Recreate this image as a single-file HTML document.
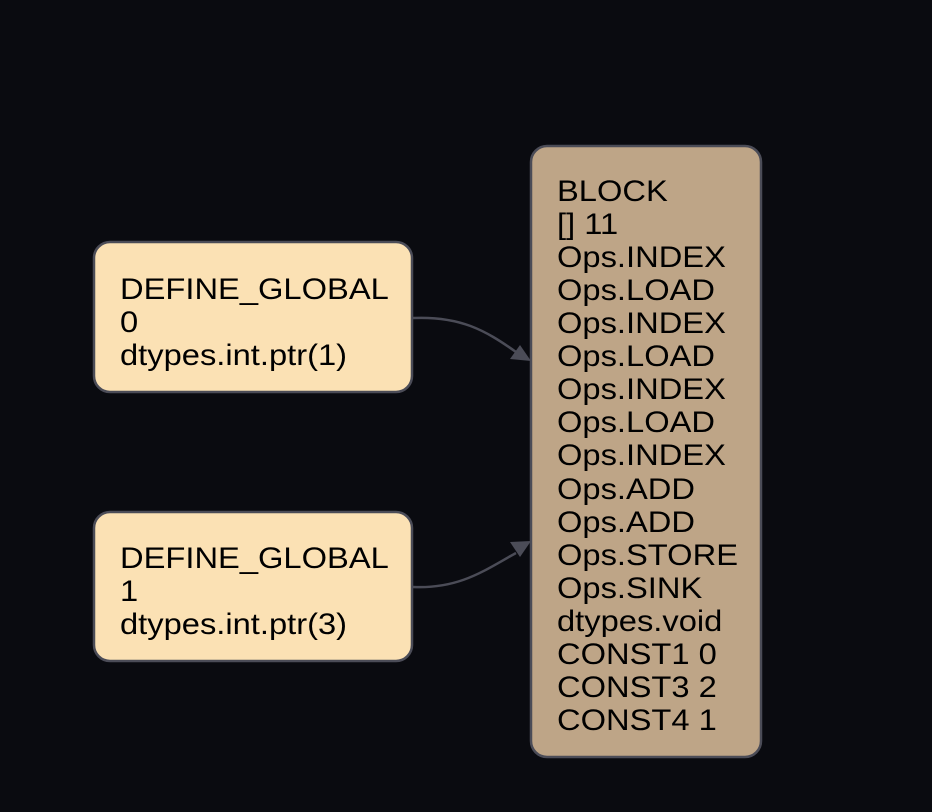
<!DOCTYPE html>
<html><head><style>
html,body{margin:0;padding:0;background:#0a0b10;}
svg{display:block}
text{font-family:"Liberation Sans",Arial,sans-serif;font-size:30px;fill:#000}
</style></head><body>
<svg width="932" height="812" viewBox="0 0 932 812">
<rect width="932" height="812" fill="#0a0b10"/>
<rect x="94" y="242" width="318" height="150" rx="16" fill="#fbe1b4" stroke="#4b4c57" stroke-width="2.5"/>
<rect x="94" y="512" width="318" height="149" rx="16" fill="#fbe1b4" stroke="#4b4c57" stroke-width="2.5"/>
<rect x="531" y="146" width="230" height="611" rx="16" fill="#bea587" stroke="#4b4c57" stroke-width="2.5"/>
<path d="M413,318 C460,316 485,330 516,352" fill="none" stroke="#4b4c57" stroke-width="2.5"/>
<polygon points="531,361 510,359 520,345" fill="#4b4c57"/>
<path d="M413,587 C460,589 485,570 516,553" fill="none" stroke="#4b4c57" stroke-width="2.5"/>
<polygon points="531,541 510,542 520,557" fill="#4b4c57"/>
<g transform="translate(120,1) scale(1.09,1)">
<text x="0" y="298">DEFINE_GLOBAL</text>
<text x="0" y="331">0</text>
<text x="0" y="364">dtypes.int.ptr(1)</text>
<text x="0" y="567">DEFINE_GLOBAL</text>
<text x="0" y="600">1</text>
<text x="0" y="633">dtypes.int.ptr(3)</text>
</g>
<g transform="translate(557,1) scale(1.09,1)">
<text x="0" y="200">BLOCK</text>
<text x="0" y="233">[] 11</text>
<text x="0" y="266">Ops.INDEX</text>
<text x="0" y="299">Ops.LOAD</text>
<text x="0" y="332">Ops.INDEX</text>
<text x="0" y="365">Ops.LOAD</text>
<text x="0" y="398">Ops.INDEX</text>
<text x="0" y="431">Ops.LOAD</text>
<text x="0" y="464">Ops.INDEX</text>
<text x="0" y="498">Ops.ADD</text>
<text x="0" y="531">Ops.ADD</text>
<text x="0" y="564">Ops.STORE</text>
<text x="0" y="597">Ops.SINK</text>
<text x="0" y="630">dtypes.void</text>
<text x="0" y="663">CONST1 0</text>
<text x="0" y="696">CONST3 2</text>
<text x="0" y="729">CONST4 1</text>
</g>
</svg>
</body></html>
